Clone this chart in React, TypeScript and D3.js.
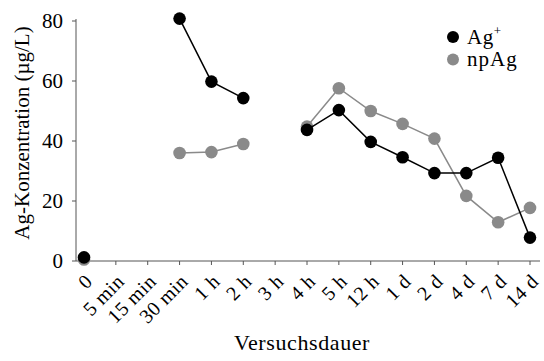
import React from "react";
import * as d3 from "d3";

const categories = ["0", "5 min", "15 min", "30 min", "1 h", "2 h", "3 h", "4 h", "5 h", "12 h", "1 d", "2 d", "4 d", "7 d", "14 d"];
const agIon: (number | null)[] = [1.2, null, null, 80.8, 59.8, 54.3, null, 43.7, 50.3, 39.7, 34.6, 29.3, 29.3, 34.4, 7.8];
const npAg: (number | null)[] = [0.5, null, null, 36, 36.3, 39, null, 44.8, 57.6, 50, 45.7, 40.8, 21.7, 12.9, 17.7];
const yTicks = [0, 20, 40, 60, 80];

const W = 544;
const H = 361;
const FONT = "'Liberation Serif', serif";

export default function App() {
  const x = d3.scalePoint<string>().domain(categories).range([84, 530]);
  const y = d3.scaleLinear().domain([0, 80]).range([261, 21]);
  const axisLeft = 76;
  const axisRight = 540;

  const line = d3
    .line<number | null>()
    .defined((d) => d !== null)
    .x((_, i) => x(categories[i]) as number)
    .y((d) => y(d as number));

  const series = [
    { name: "npAg", values: npAg, color: "#8a8a8a" },
    { name: "ag", values: agIon, color: "#000000" },
  ];

  return (
    <svg width={W} height={H} style={{ position: "absolute", left: 0, top: 0 }} fontFamily={FONT}>
      <rect width={W} height={H} fill="#fff" />
      {/* axes */}
      <line x1={axisLeft} x2={axisLeft} y1={y(80) - 2} y2={y(0)} stroke="#555" strokeWidth={1} />
      <line x1={axisLeft} x2={axisRight} y1={y(0)} y2={y(0)} stroke="#555" strokeWidth={1} />
      {yTicks.map((t) => (
        <g key={t}>
          <line x1={axisLeft - 4} x2={axisLeft} y1={y(t)} y2={y(t)} stroke="#555" />
          <text x={axisLeft - 13} y={y(t)} dy="0.33em" textAnchor="end" fontSize={21}>
            {t}
          </text>
        </g>
      ))}
      {categories.map((c) => {
        const cx = x(c) as number;
        return (
          <g key={c}>
            <line x1={cx} x2={cx} y1={y(0)} y2={y(0) + 4} stroke="#555" />
            <text
              transform={`translate(${cx + 5},${y(0) + 17}) rotate(-45)`}
              textAnchor="end"
              dy="0.33em"
              fontSize={20}
              letterSpacing={0.5}
            >
              {c}
            </text>
          </g>
        );
      })}
      {/* series */}
      {series.map((s) => (
        <g key={s.name}>
          <path d={line(s.values) || ""} fill="none" stroke={s.color} strokeWidth={1.5} />
          {s.values.map((v, i) =>
            v === null ? null : (
              <circle key={i} cx={x(categories[i]) as number} cy={y(v)} r={6.3} fill={s.color} />
            )
          )}
        </g>
      ))}
      {/* titles */}
      <text transform={`translate(29,${133}) rotate(-90)`} textAnchor="middle" fontSize={21}>
        Ag-Konzentration (µg/L)
      </text>
      <text x={302} y={350} textAnchor="middle" fontSize={22} letterSpacing={0.6}>
        Versuchsdauer
      </text>
      {/* legend */}
      <circle cx={453} cy={37} r={6} fill="#000" />
      <text x={467} y={37} dy="0.33em" fontSize={21} letterSpacing={0.5}>
        Ag<tspan dy={-9} fontSize={13}>+</tspan>
      </text>
      <circle cx={453} cy={59.5} r={6} fill="#8a8a8a" />
      <text x={467} y={59.5} dy="0.33em" fontSize={21} letterSpacing={1}>
        npAg
      </text>
    </svg>
  );
}
